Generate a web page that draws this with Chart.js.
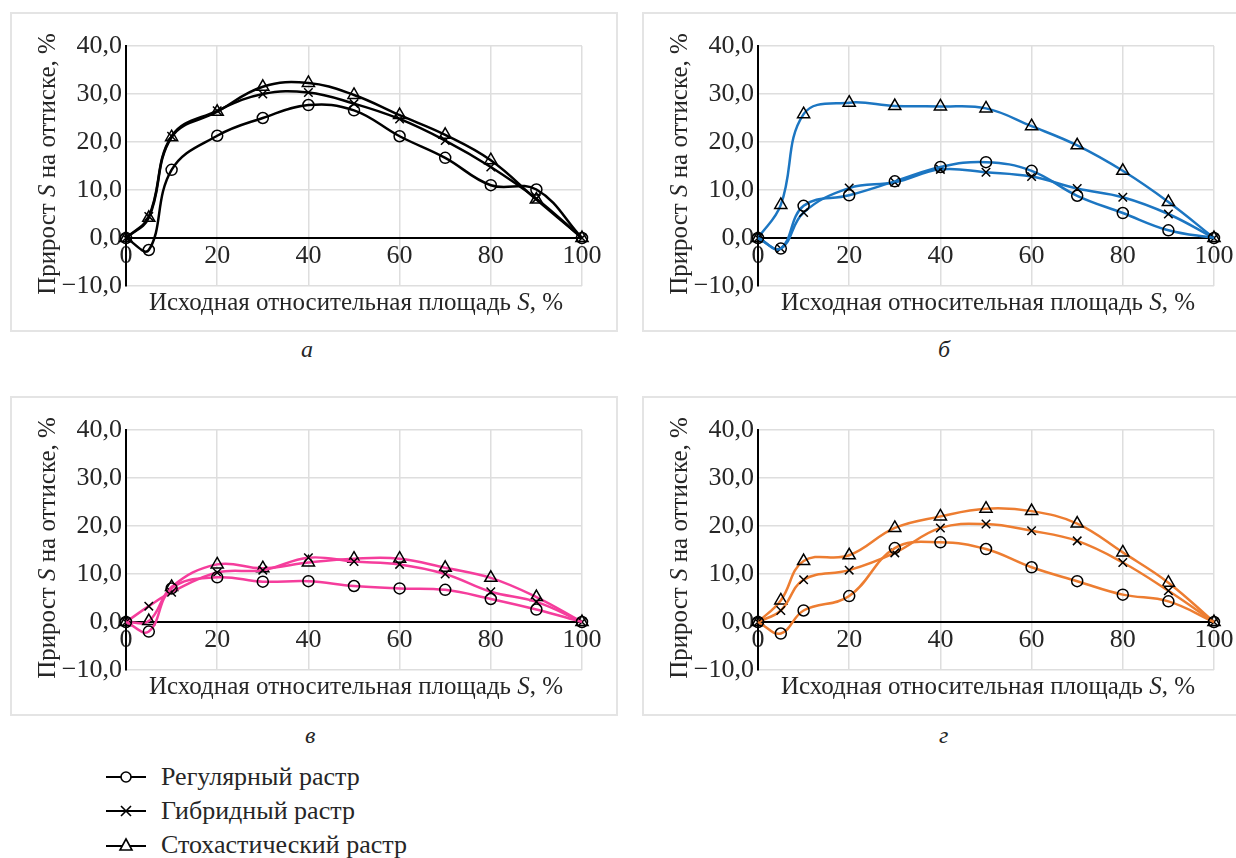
<!DOCTYPE html>
<html>
<head>
<meta charset="utf-8">
<script src="https://cdn.jsdelivr.net/npm/chart.js@4"></script>
<style>
  body { margin: 0; background: #fff; font-family: "Liberation Serif", "DejaVu Serif", serif; color: #262626; }
  .panel { position: absolute; width: 608px; height: 320px; border: 2px solid #e4e4e4; box-sizing: border-box; }
  .panel canvas { display: block; }
  .tag { position: absolute; font-style: italic; font-size: 24px; }
  .legend { position: absolute; left: 104px; top: 760px; font-size: 26px; }
  .legend div { height: 34px; display: flex; align-items: center; }
  .legend svg { margin-right: 13px; }
</style>
</head>
<body>
<div class="panel" style="left:10px;top:12px"><canvas id="ca" width="604" height="316"></canvas></div>
<div class="panel" style="left:642px;top:12px"><canvas id="cb" width="604" height="316"></canvas></div>
<div class="panel" style="left:10px;top:396px"><canvas id="cc" width="604" height="316"></canvas></div>
<div class="panel" style="left:642px;top:396px"><canvas id="cd" width="604" height="316"></canvas></div>

<div class="tag" style="left:301px;top:336px">а</div>
<div class="tag" style="left:938px;top:336px">б</div>
<div class="tag" style="left:305px;top:722px">в</div>
<div class="tag" style="left:939px;top:722px">г</div>

<div class="legend">
  <div><svg width="44" height="20"><line x1="2" y1="10" x2="42" y2="10" stroke="#000" stroke-width="2"/><circle cx="22" cy="10" r="5" fill="#fff" stroke="#000" stroke-width="1.6"/></svg>Регулярный растр</div>
  <div><svg width="44" height="20"><line x1="2" y1="10" x2="42" y2="10" stroke="#000" stroke-width="2"/><path d="M17 5 L27 15 M27 5 L17 15" stroke="#000" stroke-width="1.6"/></svg>Гибридный растр</div>
  <div><svg width="44" height="20"><line x1="2" y1="11" x2="42" y2="11" stroke="#000" stroke-width="2"/><path d="M22 4 L28 15 L16 15 Z" fill="#fff" stroke="#000" stroke-width="1.6"/></svg>Стохастический растр</div>
</div>

<script>
// x values (initial relative area S, %)
const xs = [0, 5, 10, 20, 30, 40, 50, 60, 70, 80, 90, 100];

// panel а
const regA = [0, -2.5, 14.2, 21.3, 25.0, 27.7, 26.6, 21.2, 16.7, 11.0, 10.1, 0];
const hybA = [0, 4.5, 21.2, 26.5, 30.0, 30.3, 28.0, 24.8, 20.3, 14.8, 8.2, 0];
const stoA = [0, 4.2, 21.0, 26.3, 31.5, 32.3, 29.8, 25.6, 21.5, 16.2, 8.0, 0];

// panel б
const regB = [0, -2.2, 6.7, 8.9, 11.8, 14.8, 15.8, 14.0, 8.8, 5.2, 1.6, 0];
const hybB = [0, -2.2, 5.3, 10.4, 11.6, 14.3, 13.7, 12.8, 10.3, 8.5, 5.0, 0];
const stoB = [0, 6.9, 25.8, 28.2, 27.5, 27.4, 27.0, 23.3, 19.3, 14.0, 7.5, 0];

// panel в
const regC = [0, -2.0, 7.0, 9.3, 8.4, 8.5, 7.5, 7.0, 6.7, 4.8, 2.6, 0];
const hybC = [0, 3.3, 6.2, 10.3, 10.8, 13.4, 12.6, 12.0, 10.0, 6.3, 4.2, 0];
const stoC = [0, 0.2, 7.3, 12.0, 11.2, 12.4, 13.2, 13.2, 11.3, 9.2, 5.2, 0];

// panel г
const regD = [0, -2.4, 2.4, 5.4, 15.4, 16.6, 15.2, 11.4, 8.5, 5.7, 4.3, 0];
const hybD = [0, 2.4, 8.8, 10.8, 14.4, 19.6, 20.4, 19.0, 16.9, 12.4, 6.5, 0];
const stoD = [0, 4.5, 12.7, 13.9, 19.6, 22.0, 23.6, 23.1, 20.5, 14.5, 8.2, 0];

const seriesNames = ['Регулярный растр', 'Гибридный растр', 'Стохастический растр'];
const markers = ['circle', 'crossRot', 'triangle'];
const markerSize = [5.5, 6, 7];

const FONT = '"Liberation Serif", "DejaVu Serif", serif';
const TXT = '#262626';

// axis titles with italic S
const axisTitles = {
  id: 'axisTitles',
  afterDraw(chart) {
    const { ctx, chartArea } = chart;
    const drawParts = (parts, cx, cy, size) => {
      let total = 0;
      parts.forEach(p => { ctx.font = (p[1] ? 'italic ' : '') + size + 'px ' + FONT; total += ctx.measureText(p[0]).width; });
      let x = cx - total / 2;
      parts.forEach(p => {
        ctx.font = (p[1] ? 'italic ' : '') + size + 'px ' + FONT;
        ctx.fillText(p[0], x, cy);
        x += ctx.measureText(p[0]).width;
      });
    };
    ctx.save();
    ctx.fillStyle = TXT;
    ctx.textAlign = 'left';
    ctx.textBaseline = 'middle';
    drawParts([['Исходная относительная площадь ', false], ['S', true], [', %', false]],
      (chartArea.left + chartArea.right) / 2 + 2, chartArea.bottom + 17, 25);
    ctx.translate(36, (chartArea.top + chartArea.bottom) / 2 - 2);
    ctx.rotate(-Math.PI / 2);
    drawParts([['Прирост ', false], ['S', true], [' на оттиске, %', false]], 0, 0, 25);
    ctx.restore();
  }
};

function makeChart(id, color, arrs) {
  const datasets = arrs.map((arr, i) => ({
    label: seriesNames[i],
    data: xs.map((x, j) => ({ x: x, y: arr[j] })),
    borderColor: color,
    borderWidth: 2.5,
    tension: 0.4,
    pointStyle: markers[i],
    pointRadius: markerSize[i],
    pointBorderColor: '#000',
    pointBorderWidth: 1.5,
    pointBackgroundColor: 'rgba(255,255,255,0)',
    clip: false
  }));
  new Chart(document.getElementById(id), {
    type: 'line',
    data: { datasets },
    plugins: [axisTitles],
    options: {
      responsive: false,
      animation: false,
      layout: { padding: { left: 0, top: 32, right: 34, bottom: 44 } },
      plugins: { legend: { display: false }, tooltip: { enabled: false } },
      scales: {
        x: {
          type: 'linear',
          position: { y: 0 },
          min: 0, max: 100,
          ticks: { stepSize: 20, color: TXT, font: { family: FONT, size: 26 }, padding: 3, maxRotation: 0 },
          grid: { color: '#dedede', lineWidth: 1.5, drawTicks: false },
          border: { color: '#000', width: 2 }
        },
        y: {
          min: -10, max: 40,
          afterFit: s => { s.width = 114; },
          ticks: {
            stepSize: 10, color: TXT, font: { family: FONT, size: 26 }, padding: 4,
            callback: v => (v < 0 ? '\u2212' : '') + Math.abs(v).toFixed(1).replace('.', ',')
          },
          grid: { color: '#dedede', lineWidth: 1.5, drawTicks: false },
          border: { color: '#000', width: 2 }
        }
      }
    }
  });
}

makeChart('ca', '#000000', [regA, hybA, stoA]);
makeChart('cb', '#1c76c2', [regB, hybB, stoB]);
makeChart('cc', '#f53d9c', [regC, hybC, stoC]);
makeChart('cd', '#ed7d31', [regD, hybD, stoD]);
</script>
</body>
</html>
